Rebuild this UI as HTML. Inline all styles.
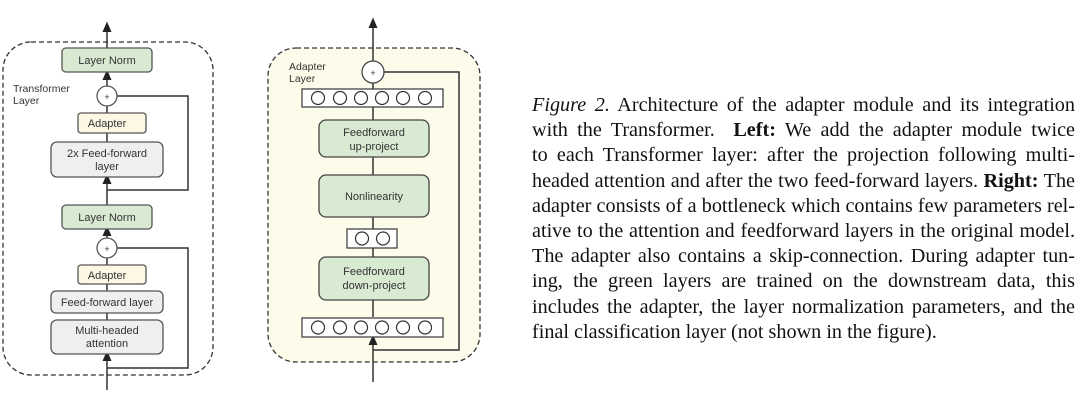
<!DOCTYPE html>
<html><head><style>
body{margin:0;width:1080px;height:408px;background:#fff;overflow:hidden;position:relative}
svg{position:absolute;left:0;top:0}
.cap{position:absolute;left:532px;top:93px;width:543px;font-family:"Liberation Serif",serif;font-size:20.2px;line-height:25.2px;color:#111}
.cap div{text-align:justify;text-align-last:justify;white-space:nowrap}
.cap div.l{text-align-last:left}
</style></head><body>
<svg width="1080" height="408" font-family="Liberation Sans, sans-serif" font-size="11" fill="#333">
<defs><marker id="a" markerWidth="8" markerHeight="8" refX="4" refY="4" orient="auto"><path d="M0,1 L7,4 L0,7 z" fill="#222"/></marker></defs>
<rect x="3" y="42" width="210" height="333" rx="28" fill="none" stroke="#333" stroke-dasharray="5,3" stroke-width="1.3"/>
<g stroke="#333" stroke-width="1.5" fill="none">
<line x1="107" y1="48" x2="107" y2="26" marker-end="url(#a)"/>
<line x1="107" y1="86" x2="107" y2="74" marker-end="url(#a)"/>
<line x1="107" y1="106" x2="107" y2="113"/>
<line x1="107" y1="132" x2="107" y2="142"/>
<line x1="107" y1="205" x2="107" y2="178" marker-end="url(#a)"/>
<polyline points="117,96 188,96 188,190 107,190"/>
<line x1="107" y1="238" x2="107" y2="230" marker-end="url(#a)"/>
<line x1="107" y1="258" x2="107" y2="265"/>
<line x1="107" y1="284" x2="107" y2="291"/>
<line x1="107" y1="313" x2="107" y2="320"/>
<line x1="107" y1="390" x2="107" y2="355" marker-end="url(#a)"/>
<polyline points="117,248 188,248 188,368 107,368"/>
</g>
<g stroke="#555" stroke-width="1.3">
<rect x="62" y="48" width="90" height="24" rx="4" fill="#d9ead3"/>
<circle cx="107" cy="96" r="10" fill="#fff"/>
<rect x="78" y="113" width="68" height="20" rx="3" fill="#fdf8e4"/>
<rect x="51" y="142" width="112" height="35" rx="6" fill="#efefef"/>
<rect x="62" y="205" width="90" height="24" rx="4" fill="#d9ead3"/>
<circle cx="107" cy="248" r="10" fill="#fff"/>
<rect x="78" y="265" width="68" height="19" rx="3" fill="#fdf8e4"/>
<rect x="51" y="291" width="112" height="22" rx="5" fill="#efefef"/>
<rect x="51" y="320" width="112" height="34" rx="6" fill="#efefef"/>
</g>
<g text-anchor="middle">
<text x="107" y="64">Layer Norm</text>
<text x="107" y="100" font-size="9">+</text>
<text x="107" y="127">Adapter</text>
<text x="107" y="157">2x Feed-forward</text>
<text x="107" y="170">layer</text>
<text x="107" y="221">Layer Norm</text>
<text x="107" y="252" font-size="9">+</text>
<text x="107" y="279">Adapter</text>
<text x="107" y="306">Feed-forward layer</text>
<text x="107" y="334">Multi-headed</text>
<text x="107" y="347">attention</text>
</g>
<text x="13" y="92" font-size="10.5">Transformer</text>
<text x="13" y="104" font-size="10.5">Layer</text>
<rect x="268" y="48" width="212" height="314" rx="28" fill="#fdfbea" stroke="#333" stroke-dasharray="5,3" stroke-width="1.3"/>
<g stroke="#333" stroke-width="1.5" fill="none">
<line x1="373" y1="61" x2="373" y2="22" marker-end="url(#a)"/>
<line x1="373" y1="83" x2="373" y2="89"/>
<line x1="373" y1="106" x2="373" y2="120"/>
<line x1="373" y1="157" x2="373" y2="175"/>
<line x1="373" y1="217" x2="373" y2="229"/>
<line x1="373" y1="248" x2="373" y2="257"/>
<line x1="373" y1="300" x2="373" y2="317"/>
<line x1="373" y1="382" x2="373" y2="339" marker-end="url(#a)"/>
<polyline points="384,72 459,72 459,350 373,350"/>
</g>
<g stroke="#444" stroke-width="1.3">
<circle cx="373" cy="72" r="11" fill="#fff"/>
<rect x="302" y="89" width="141" height="18" fill="#fff"/>
<rect x="319" y="120" width="110" height="37" rx="7" fill="#d9ead3"/>
<rect x="319" y="175" width="110" height="42" rx="7" fill="#d9ead3"/>
<rect x="347" y="229" width="50" height="19" fill="#fff"/>
<rect x="319" y="257" width="110" height="43" rx="7" fill="#d9ead3"/>
<rect x="302" y="318" width="141" height="19" fill="#fff"/>
</g>
<g stroke="#333" stroke-width="1.2" fill="#fff">
<circle cx="318" cy="98" r="6.5"/><circle cx="340" cy="98" r="6.5"/><circle cx="361" cy="98" r="6.5"/><circle cx="382" cy="98" r="6.5"/><circle cx="403" cy="98" r="6.5"/><circle cx="425" cy="98" r="6.5"/>
<circle cx="362" cy="238.5" r="6.5"/><circle cx="383" cy="238.5" r="6.5"/>
<circle cx="318" cy="327.5" r="6.5"/><circle cx="340" cy="327.5" r="6.5"/><circle cx="361" cy="327.5" r="6.5"/><circle cx="382" cy="327.5" r="6.5"/><circle cx="403" cy="327.5" r="6.5"/><circle cx="425" cy="327.5" r="6.5"/>
</g>
<g text-anchor="middle">
<text x="373" y="76" font-size="9">+</text>
<text x="374" y="136">Feedforward</text>
<text x="374" y="150">up-project</text>
<text x="374" y="200">Nonlinearity</text>
<text x="374" y="275">Feedforward</text>
<text x="374" y="289">down-project</text>
</g>
<text x="289" y="70" font-size="10.5">Adapter</text>
<text x="289" y="82" font-size="10.5">Layer</text>
</svg>
<div class="cap">
<div><i>Figure 2.</i> Architecture of the adapter module and its integration</div>
<div>with the Transformer. &nbsp;<b>Left:</b> We add the adapter module twice</div>
<div>to each Transformer layer: after the projection following multi-</div>
<div>headed attention and after the two feed-forward layers. <b>Right:</b> The</div>
<div>adapter consists of a bottleneck which contains few parameters rel-</div>
<div>ative to the attention and feedforward layers in the original model.</div>
<div>The adapter also contains a skip-connection. During adapter tun-</div>
<div>ing, the green layers are trained on the downstream data, this</div>
<div>includes the adapter, the layer normalization parameters, and the</div>
<div class="l">final classification layer (not shown in the figure).</div>
</div>
</body></html>
